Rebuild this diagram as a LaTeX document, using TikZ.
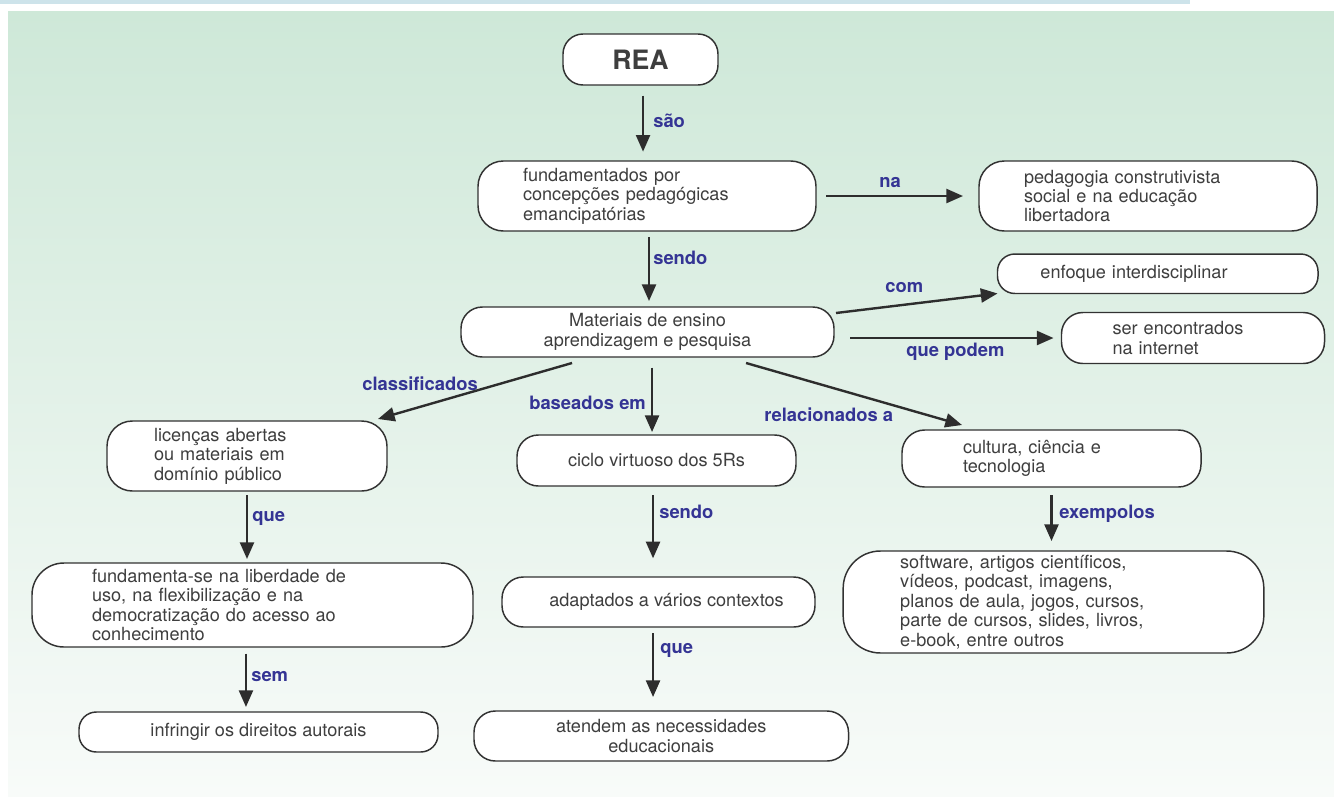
\documentclass[tikz,border=0pt]{standalone}
\usepackage{fontspec}
\setmainfont{TeX Gyre Heros}
\usetikzlibrary{arrows.meta}
\definecolor{bgtop}{RGB}{206,232,216}
\definecolor{bgbot}{RGB}{248,251,249}
\definecolor{stripc}{RGB}{205,227,234}
\definecolor{linec}{RGB}{50,50,50}
\definecolor{txtc}{RGB}{62,62,62}
\definecolor{lblc}{RGB}{52,52,148}
\definecolor{arrc}{RGB}{45,45,45}
\newcommand\boxfont{\fontsize{13.6pt}{14.6pt}\selectfont}
\newcommand\lblfont{\fontsize{13.8pt}{15pt}\selectfont\bfseries}
\begin{document}
\begin{tikzpicture}[x=0.75pt,y=-0.75pt,
 box/.style={draw=linec,line width=1.1pt,fill=white,text=txtc,font=\boxfont,inner ysep=0pt,outer sep=0pt},
 lbox/.style n args={4}{box,rounded corners=#1,minimum height=#2,inner xsep=#3,text width=#4,align=left},
 cbox/.style n args={3}{box,rounded corners=#1,minimum width=#2,minimum height=#3,align=center},
 lbl/.style={text=lblc,font=\lblfont,inner sep=0pt,anchor=west,text height=9.5pt,text depth=0pt},
 arr/.style={draw=arrc,line width=1.8pt,-{Triangle[length=12.5pt,width=10.5pt]}}]
\useasboundingbox (0,0) rectangle (1334,796);
\fill[white] (0,0) rectangle (1334,796);
\fill[stripc] (0,0) rectangle (1190,4);
\shade[top color=bgtop,bottom color=bgbot] (8,11) rectangle (1334,796);

% boxes
\node[cbox={15pt}{116.25pt}{38.25pt},font=\fontsize{20pt}{22pt}\selectfont\bfseries] (rea) at (640.5,59.5) {REA};
\node[lbox={19pt}{52.5pt}{33.75pt}{186pt}] (fund) at (647,196) {fundamentados por\\concepções pedagógicas\\emancipatórias};
\node[lbox={19pt}{52.5pt}{33.75pt}{186pt}] (ped) at (1148,196) {pedagogia construtivista\\social e na educação\\libertadora};
\node[lbox={13pt}{29.6pt}{32.25pt}{175.9pt}] (enf) at (1157.75,273.75) {enfoque interdisciplinar};
\node[cbox={16pt}{279.75pt}{37.5pt}] (mat) at (647.5,332) {Materiais de ensino\\aprendizagem e pesquisa};
\node[lbox={16pt}{38.25pt}{38.25pt}{120.75pt}] (ser) at (1193,338) {ser encontrados\\na internet};
\node[lbox={19pt}{52.5pt}{35.25pt}{139.5pt}] (lic) at (247,456) {licenças abertas\\ou materiais em\\domínio público};
\node[cbox={16pt}{209.25pt}{38.25pt}] (ciclo) at (656.5,460.5) {ciclo virtuoso dos 5Rs};
\node[lbox={17pt}{42.75pt}{45.75pt}{132.75pt}] (cult) at (1051.5,458.5) {cultura, ciência e\\tecnologia};
\node[lbox={24pt}{63pt}{45pt}{240.75pt}] (fdm) at (252.5,605) {fundamenta-se na liberdade de\\uso, na flexibilização e na\\democratização do acesso ao\\conhecimento};
\node[lbox={28pt}{76.5pt}{42.75pt}{230pt}] (soft) at (1053.5,602) {software, artigos científicos,\\vídeos, podcast, imagens,\\planos de aula, jogos, cursos,\\parte de cursos, slides, livros,\\e-book, entre outros};
\node[cbox={16pt}{234.75pt}{37.5pt}] (adapt) at (658.5,602) {\hspace{12pt}adaptados a vários contextos};
\node[cbox={13pt}{269.25pt}{30pt}] (infr) at (258.5,732) {infringir os direitos autorais};
\node[cbox={16pt}{280.9pt}{37.5pt}] (atend) at (661.25,736) {atendem as necessidades\\educacionais};

% labels
\node[lbl] (l1) at (653,121) {são};
\node[lbl] (l2) at (653,258) {sendo};
\node[lbl] (l3) at (879,181) {na};
\node[lbl] (l4) at (885,286) {com};
\node[lbl] (l5) at (906,350) {que podem};
\node[lbl] (l6) at (362,384) {classificados};
\node[lbl] (l7) at (529,403) {baseados em};
\node[lbl] (l8) at (764,415) {relacionados a};
\node[lbl] (l9) at (252,515) {que};
\node[lbl] (l10) at (659,512) {sendo};
\node[lbl] (l11) at (1059,512) {exempolos};
\node[lbl] (l12) at (251,675) {sem};
\node[lbl] (l13) at (660,647) {que};

% vertical connectors
\coordinate (c1) at ([xshift=1.9pt]rea.south);
\draw[arr,shorten <=8pt,shorten >=7pt] (c1) -- (c1 |- fund.north);
\coordinate (c2) at ([xshift=1.5pt]fund.south);
\draw[arr,shorten <=4.5pt,shorten >=4.5pt] (c2) -- (c2 |- mat.north);
\coordinate (c3) at ([xshift=3.4pt]mat.south);
\draw[arr,shorten <=8pt,shorten >=2.25pt] (c3) -- (c3 |- ciclo.north);
\coordinate (c4) at (lic.south);
\draw[arr,shorten <=3pt,shorten >=3pt] (c4) -- (c4 |- fdm.north);
\coordinate (c5) at ([xshift=-4.9pt]fdm.south);
\draw[arr,shorten <=5pt,shorten >=3.75pt] (c5) -- (c5 |- infr.north);
\coordinate (c6) at ([xshift=-2.6pt]ciclo.south);
\draw[arr,shorten <=6.75pt,shorten >=14pt] (c6) -- (c6 |- adapt.north);
\coordinate (c7) at ([xshift=-4.1pt]adapt.south);
\draw[arr,shorten <=4.5pt,shorten >=10.5pt] (c7) -- (c7 |- atend.north);
\coordinate (c8) at (cult.south);
\draw[arr,shorten <=6pt,shorten >=7.5pt] (c8) -- (c8 |- soft.north);

% horizontal / oblique connectors
\draw[arr,shorten <=7.5pt,shorten >=12pt] (fund.east) -- (ped.west);
\coordinate (c10) at ([yshift=-4.5pt]mat.east);
\draw[arr,shorten <=12pt,shorten >=6pt] (c10) -- (c10 -| ser.west);
\draw[arr] ([shift={(1.5pt,-4.5pt)}]mat.north east) -- (enf.south west);
\draw[arr] ([shift={(-56.6pt,-4.5pt)}]mat.south) -- ([shift={(-6.75pt,1.5pt)}]lic.north east);
\draw[arr] ([shift={(73.9pt,-4.5pt)}]mat.south) -- ([shift={(45pt,3.75pt)}]cult.north west);
\end{tikzpicture}
\end{document}
